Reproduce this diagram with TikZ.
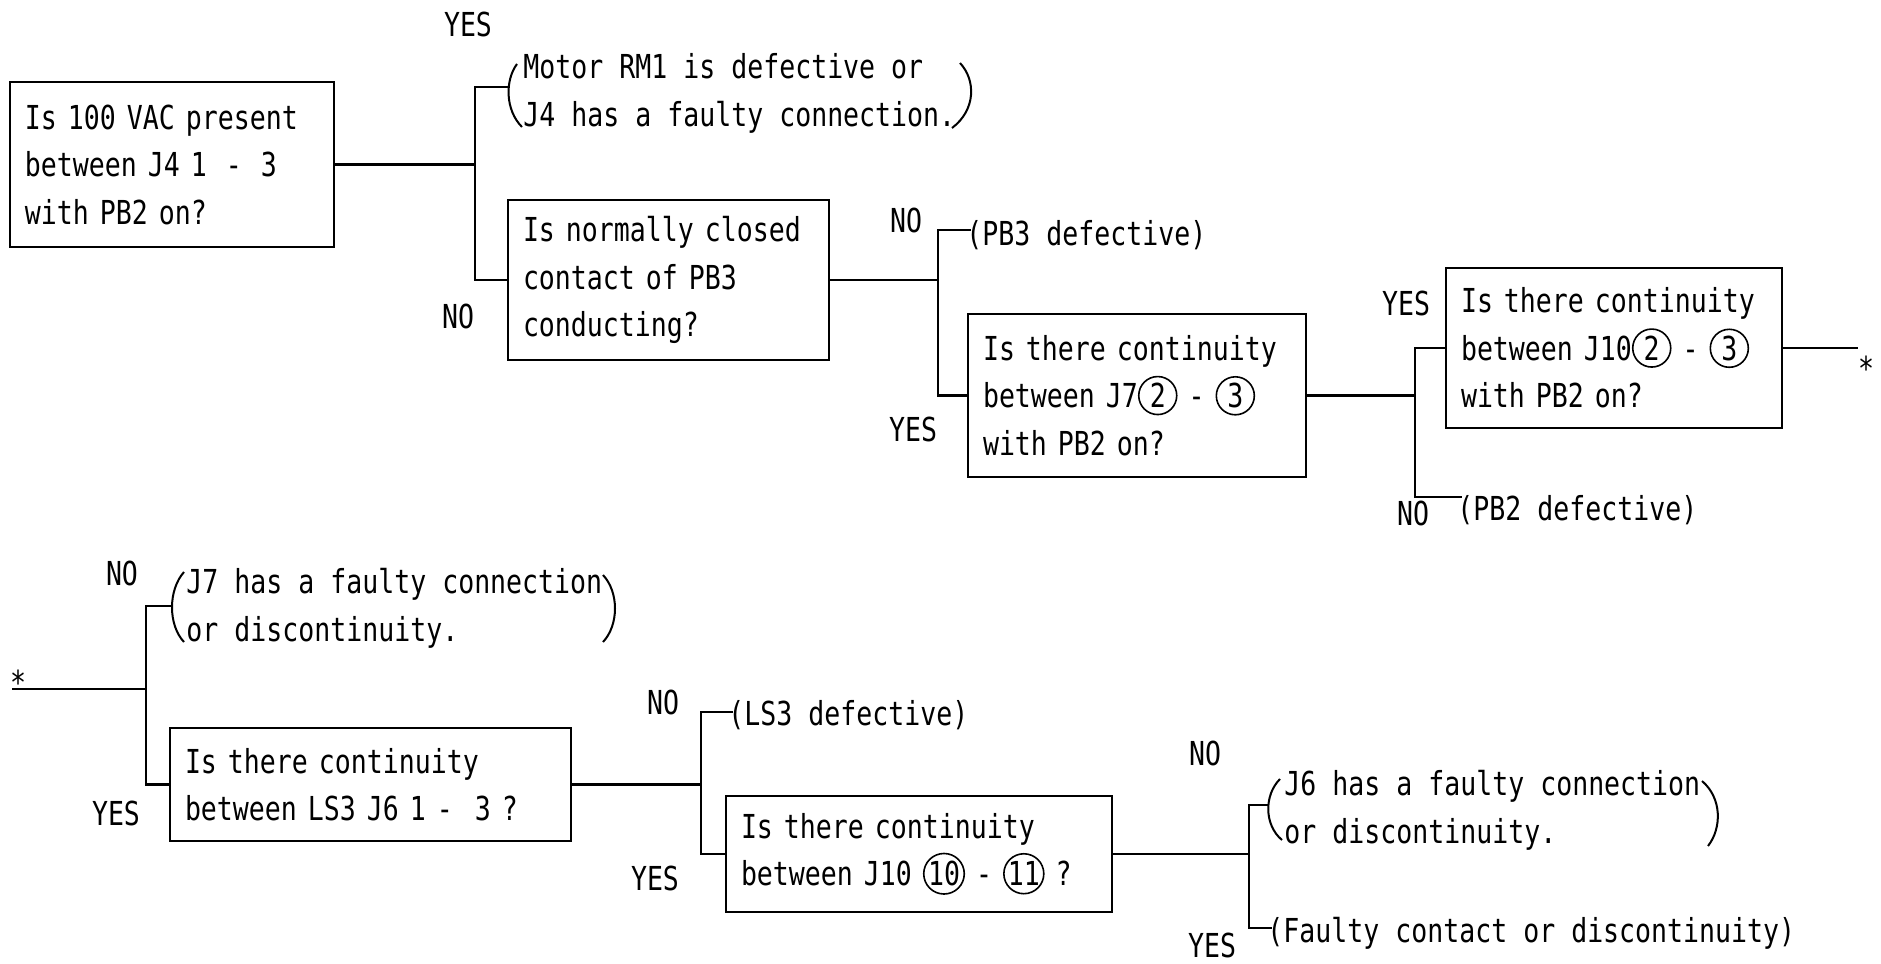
\documentclass[tikz,border=0pt]{standalone}
\usepackage{fontspec}
\newfontfamily\twfont[FakeStretch=0.805]{DejaVu Sans Mono}
\newcommand{\cnum}[1]{\tikz[baseline=(cnode.base)]\node[circle,draw,line width=0.8pt,inner sep=0pt,minimum size=19pt] (cnode) {#1};}
\begin{document}
\begin{tikzpicture}[x=0.5pt,y=-0.5pt,
  txt/.style={font=\twfont\fontsize{16.5pt}{23.75pt}\selectfont, inner sep=0pt},
  qbox/.style={txt, draw, line width=1.2pt, align=left, inner xsep=7.5pt},
  wire/.style={line width=1.2pt},
  paren/.style={line width=1pt},
  lbl/.style={txt}]
\useasboundingbox (0,0) rectangle (1881,964);

% question boxes
\node[qbox, minimum width=162pt, minimum height=82.5pt, text width=147pt] (b1) at (172,164.5)
  {Is 100 VAC present\\between J4 1\hspace{4pt} -\hspace{4pt} 3\\with PB2 on?};
\node[qbox, minimum width=160.5pt, minimum height=80pt, text width=145.5pt] (b2) at (668.5,280)
  {Is normally closed\\contact of PB3\\conducting?};
\node[qbox, minimum width=169pt, minimum height=81.5pt, text width=154pt] (b3) at (1137,395.5)
  {Is there continuity\\between J7\cnum{2} - \cnum{3}\\with PB2 on?};
\node[qbox, minimum width=168pt, minimum height=80pt, text width=153pt] (b4) at (1614,348)
  {Is there continuity\\between J10\cnum{2} - \cnum{3}\\with PB2 on?};
\node[qbox, minimum width=200.5pt, minimum height=56.5pt, text width=185.5pt] (b5) at (370.5,784.5)
  {Is there continuity\\between LS3 J6 1 - \ 3 ?};
\node[qbox, minimum width=193pt, minimum height=58pt, text width=178pt] (b6) at (919,854)
  {Is there continuity\\between J10 \cnum{10} - \cnum{11} ?};

% bracketed results
\node[txt, align=left, anchor=west] (g1) at (523,93.5) {Motor RM1 is defective or\\J4 has a faulty connection.};
\node[txt, align=left, anchor=west] (g2) at (186,608.5) {J7 has a faulty connection\\or discontinuity.};
\node[txt, align=left, anchor=west] (g3) at (1284,810.5) {J6 has a faulty connection\\or discontinuity.};
\draw[paren] (517,64) .. controls (505,80) and (505,110) .. (522,127);
\draw[paren] (960,63) .. controls (976,80) and (976,110) .. (952,128);
\draw[paren] (603,575) .. controls (619,592) and (619,625) .. (603,642);
\draw[paren] (1280,779) .. controls (1264,795) and (1264,825) .. (1282,840);
\draw[paren] (1702,781) .. controls (1722,798) and (1722,828) .. (1708,846);
\draw[paren] (184,572) .. controls (168,590) and (168,625) .. (184,642);
\coordinate (g1in) at (509,87);
\coordinate (g2in) at (172,606);
\coordinate (g3in) at (1268,805);

% single-line results
\node[txt, anchor=west] (r1) at (966,235) {(PB3 defective)};
\node[txt, anchor=west] (r2) at (1457,510) {(PB2 defective)};
\node[txt, anchor=west] (r3) at (728,715) {(LS3 defective)};
\node[txt, anchor=west] (r4) at (1267,933) {(Faulty contact or discontinuity)};
\coordinate (r1in) at (971,230);
\coordinate (r2in) at (1462,497);
\coordinate (r3in) at (733,712);
\coordinate (r4in) at (1272,928);

% labels
\node[lbl] (l1) at (468,24) {YES};
\node[lbl] (l2) at (458,316) {NO};
\node[lbl] (l3) at (906,220) {NO};
\node[lbl] (l4) at (913,429) {YES};
\node[lbl] (l5) at (1406,303) {YES};
\node[lbl] (l6) at (1413,513) {NO};
\node[lbl] (l7) at (122,573) {NO};
\node[lbl] (l8) at (116,813) {YES};
\node[lbl] (l9) at (663,702) {NO};
\node[lbl] (l10) at (655,878) {YES};
\node[lbl] (l11) at (1205,753) {NO};
\node[lbl] (l12) at (1212,945) {YES};
\node[lbl] (st1) at (1866,368) {*};
\node[lbl] (st2) at (18,682) {*};
\coordinate (s2) at (12,689);

% junctions
\coordinate (j1) at (475,164.5);
\coordinate (j2) at (938,280);
\coordinate (j3) at (1415,395.5);
\coordinate (j4) at (146,689);
\coordinate (j5) at (701,784.5);
\coordinate (j6) at (1249,854);

% connectors
\draw[wire] (b1.east) -- (j1);
\draw[wire] (g1in) -| (j1) |- (b2.west);
\draw[wire] (b2.east) -- (j2);
\draw[wire] (r1in) -| (j2) |- (b3.west);
\draw[wire] (b3.east) -- (j3);
\draw[wire] (b4.west) -| (j3) |- (r2in);
\draw[wire] (b4.east) -- (b4.east -| st1.west);
\draw[wire] (s2) -- (j4);
\draw[wire] (g2in) -| (j4) |- (b5.west);
\draw[wire] (b5.east) -- (j5);
\draw[wire] (r3in) -| (j5) |- (b6.west);
\draw[wire] (b6.east) -- (j6);
\draw[wire] (g3in) -| (j6) |- (r4in);
\end{tikzpicture}
\end{document}
